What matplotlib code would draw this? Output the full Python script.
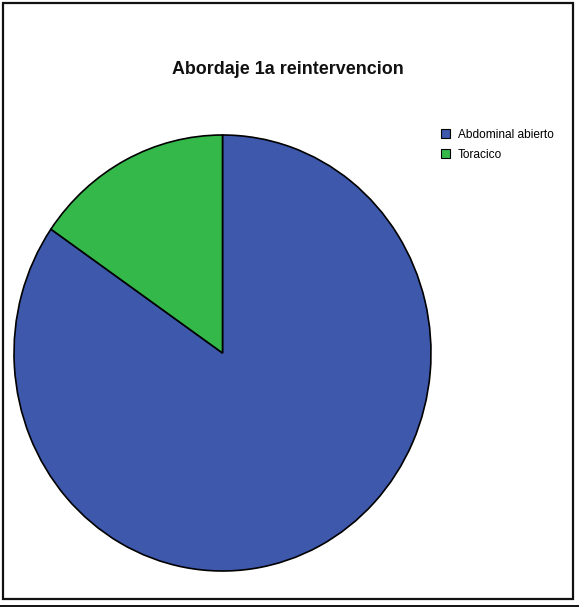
import matplotlib
matplotlib.use("Agg")
import matplotlib.pyplot as plt
from matplotlib.patches import Rectangle, Patch
from matplotlib.lines import Line2D

plt.rcParams['font.family'] = ['Liberation Sans', 'DejaVu Sans']

title = "Abordaje 1a reintervencion"
categories = ["Abdominal abierto", "Toracico"]
counts = [11, 2]
colors = ["#3E58AC", "#35B84A"]

W, H = 579, 607
fig = plt.figure(figsize=(W / 100, H / 100), dpi=100)

# outer chart frame
fig.add_artist(Rectangle((3 / W, 8 / H), 570 / W, 596 / H, transform=fig.transFigure,
                         fill=False, edgecolor="#111111", linewidth=1.6))
fig.add_artist(Line2D([0, 1], [1.5 / H, 1.5 / H], transform=fig.transFigure,
                      color="#111111", linewidth=1.4))

ax = fig.add_axes([14 / W, 36 / H, 417 / W, 436 / H])
wedges, _ = ax.pie(counts, colors=colors, startangle=90, counterclock=False,
                   wedgeprops=dict(edgecolor="black", linewidth=1.2))
ax.set_aspect("auto")
ax.set_xlim(-1, 1)
ax.set_ylim(-1, 1)
ax.axis("off")

fig.text(288 / W, 1 - 69 / H, title, ha="center", va="center",
         fontsize=12.9, fontweight="bold", color="#111111")

handles = [Patch(facecolor=c, edgecolor="black", linewidth=0.8) for c in colors]
fig.legend(handles, categories, loc="upper left",
           bbox_to_anchor=(431 / W, 1 - 119 / H), frameon=False,
           fontsize=8.6, handlelength=0.8, handleheight=0.8,
           handletextpad=0.65, labelspacing=0.7, borderpad=0.3)

fig.savefig("out.png", dpi=100)
